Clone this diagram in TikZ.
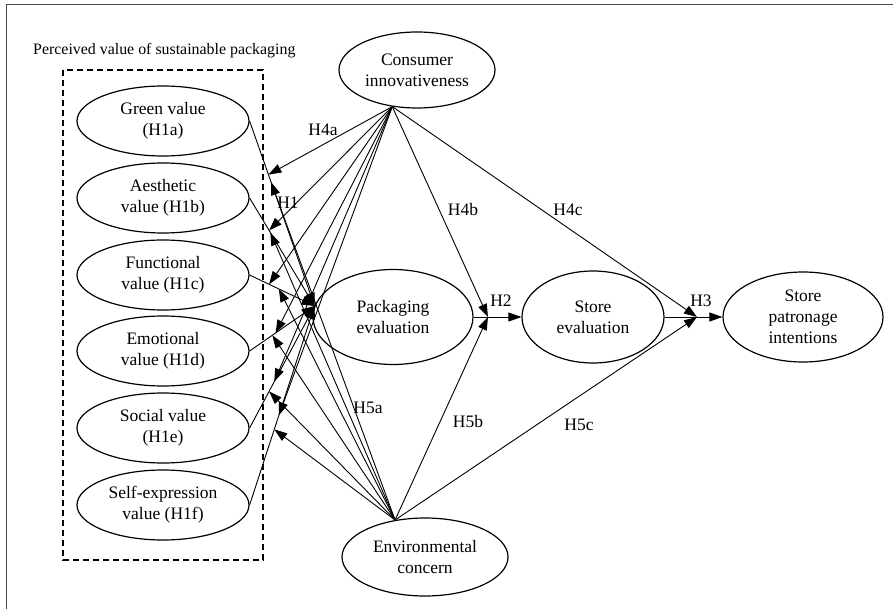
\documentclass[tikz,border=0pt]{standalone}
\usepackage{fontspec}
\setmainfont{Liberation Serif}
\usetikzlibrary{shapes.geometric,arrows.meta}

\begin{document}
\begin{tikzpicture}[x=1pt,y=-1pt,
  construct/.style={draw,ellipse,line width=1.2pt,inner sep=0pt,align=center,
    font=\fontsize{17.5}{21}\selectfont},
  effect/.style={line width=0.9pt,-{Triangle[length=13pt,width=9pt]}},
  hlabel/.style={inner sep=0pt,font=\fontsize{17.5}{21}\selectfont}]
%% page and frame
\useasboundingbox (0,0) rectangle (893,609);
\draw[gray!60!black,line width=1pt] (6,609) -- (6,5) -- (893,5);
%% perceived value block
\node[anchor=base west,inner sep=0pt,font=\fontsize{15.9}{19}\selectfont] (pvtitle) at (33,55) {Perceived value of sustainable packaging};
\draw[line width=1.6pt,dash pattern=on 6pt off 4pt] (63,70) rectangle (263,560);
\node[construct,minimum width=172pt,minimum height=70pt] (green) at (163,121) {Green value\\(H1a)};
\node[construct,minimum width=172pt,minimum height=70pt] (aesth) at (163,198) {Aesthetic\\value (H1b)};
\node[construct,minimum width=172pt,minimum height=70pt] (func) at (163,275) {Functional\\value (H1c)};
\node[construct,minimum width=172pt,minimum height=70pt] (emot) at (163,351) {Emotional\\value (H1d)};
\node[construct,minimum width=172pt,minimum height=70pt] (social) at (163,428) {Social value\\(H1e)};
\node[construct,minimum width=172pt,minimum height=70pt] (selfexp) at (163,505) {Self-expression\\value (H1f)};
%% other constructs
\node[construct,minimum width=156pt,minimum height=76pt] (innov) at (417,70) {Consumer\\innovativeness};
\node[construct,minimum width=160pt,minimum height=95pt] (pack) at (393,317) {Packaging\\evaluation};
\node[construct,minimum width=142pt,minimum height=92pt] (store) at (593,317) {Store\\evaluation};
\node[construct,minimum width=160pt,minimum height=90pt] (patron) at (803,317) {Store\\patronage\\intentions};
\node[construct,minimum width=166pt,minimum height=78pt] (envc) at (425,557) {Environmental\\concern};
%% main paths
\draw[effect] (pack) -- coordinate[pos=0.3] (h2pt) (store);
\draw[effect] (store) -- coordinate[pos=0.56] (h3pt) (patron);
\foreach \v/\a/\b in {green/0.29/0.33,aesth/0.3/0.32,func/0.3/0.45,emot/0.4/0.35,social/0.38/0.3,selfexp/0.45/0.38}
  \draw[effect] (\v.east) -- coordinate[pos=\a] (\v-in) coordinate[pos=\b] (\v-en) (pack.172);
%% moderating paths
\foreach \v in {green,aesth,func,emot,social,selfexp}{
  \draw[effect] (innov.236) -- (\v-in);
  \draw[effect] (envc.129) -- (\v-en);
}
\draw[effect] (innov.236) -- (h2pt);
\draw[effect] (innov.236) -- (h3pt);
\draw[effect] (envc.129) -- (h2pt);
\draw[effect] (envc.129) -- (h3pt);
%% labels
\node[hlabel] (l4a) at (323,130) {H4a};
\node[hlabel] (l1) at (288,203) {H1};
\node[hlabel] (l4b) at (463,210) {H4b};
\node[hlabel] (l4c) at (568,210) {H4c};
\node[hlabel] (l2) at (501,301) {H2};
\node[hlabel] (l3) at (701,301) {H3};
\node[hlabel] (l5a) at (368,408) {H5a};
\node[hlabel] (l5b) at (468,422) {H5b};
\node[hlabel] (l5c) at (579,425) {H5c};

\end{tikzpicture}
\end{document}
